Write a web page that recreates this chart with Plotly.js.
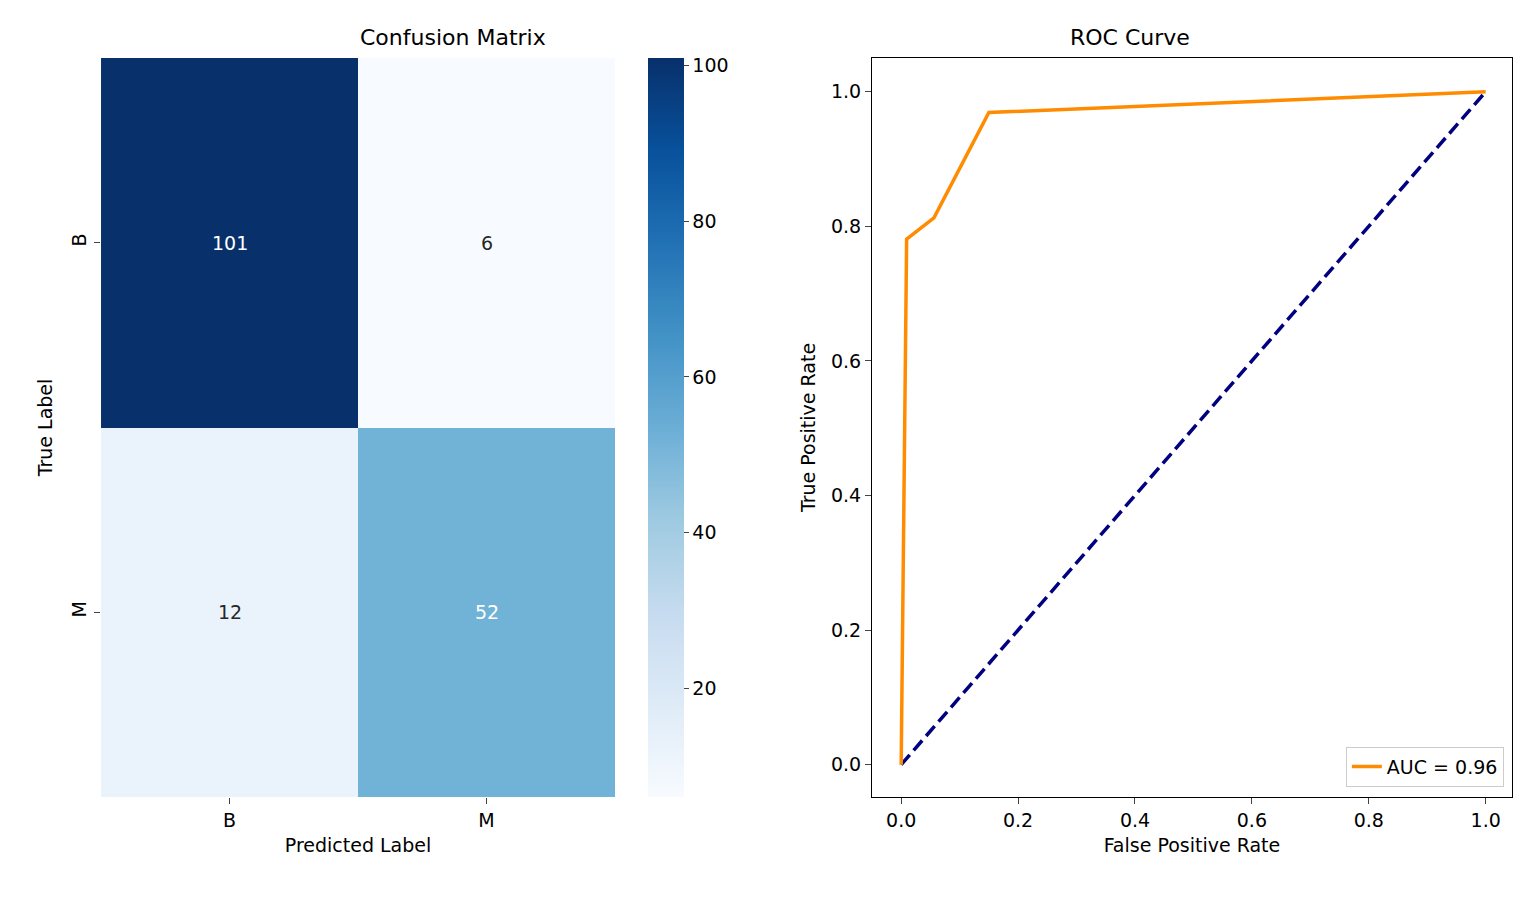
<!DOCTYPE html>
<html>
<head>
<meta charset="utf-8">
<script src="https://cdn.plot.ly/plotly-3.0.1.min.js"></script>
<style>body{margin:0;background:#fff}#c{width:1533px;height:898px}</style>
</head>
<body>
<div id="c"></div>
<script>
// confusion matrix
const labels = ["B", "M"];
const cm = [[101, 6], [12, 52]];
// roc curve
const fpr = [0, 0.0093, 0.056, 0.15, 1];
const tpr = [0, 0.781, 0.8125, 0.969, 1];
const auc = 0.96;

const F = { family: "DejaVu Sans, sans-serif", color: "#000", size: 19 };
const blues = [
    [0, "#f7fbff"], [0.125, "#deebf7"], [0.25, "#c6dbef"], [0.375, "#9ecae1"],
    [0.5, "#6baed6"], [0.625, "#4292c6"], [0.75, "#2171b5"], [0.875, "#08519c"], [1, "#08306b"]
];
const zmin = 6, zmax = 101;

const traces = [
    {
        type: "heatmap", x: labels, y: labels, z: cm, zmin, zmax, colorscale: blues,
        colorbar: { x: 0.4227, xanchor: "left", y: 0.1125, yanchor: "bottom", len: 0.8229, lenmode: "fraction",
            thickness: 36, outlinewidth: 0, xpad: 0, ypad: 0, tickvals: [20, 40, 60, 80, 100], ticks: "outside", ticklen: 5,
            tickfont: F },
        hoverinfo: "skip"
    },
    { x: [0, 1], y: [0, 1], xaxis: "x2", yaxis: "y2", mode: "lines", line: { color: "#000080", width: 3.5, dash: "13px,6px" }, showlegend: false },
    { x: fpr, y: tpr, xaxis: "x2", yaxis: "y2", mode: "lines", name: "AUC = " + auc.toFixed(2), line: { color: "#ff8c00", width: 3.5 } }
];

const ann = [];
cm.forEach((row, i) => row.forEach((v, j) => ann.push({
    x: labels[j], y: labels[i], xref: "x", yref: "y", text: String(v), showarrow: false,
    font: { ...F, color: (v - zmin) / (zmax - zmin) > 0.45 ? "#fff" : "#262626" }
})));

const ax = { showline: true, linecolor: "#000", linewidth: 1, mirror: true, ticks: "outside", ticklen: 6, tickfont: F, showgrid: false, zeroline: false };

Plotly.newPlot("c", traces, {
    width: 1533, height: 898, margin: { l: 0, r: 0, t: 0, b: 0, autoexpand: false }, font: F,
    paper_bgcolor: "#fff", plot_bgcolor: "#fff",
    xaxis: { domain: [0.0659, 0.4012], anchor: "y", ticks: "outside", ticklen: 6, tickfont: F, showline: false,
        title: { text: "Predicted Label", font: F, standoff: 8 } },
    yaxis: { domain: [0.1125, 0.9354], anchor: "x", autorange: "reversed", ticks: "outside", ticklen: 6, tickfont: F, tickangle: -90,
        title: { text: "True Label", font: F, standoff: 10 } },
    xaxis2: { ...ax, domain: [0.5688, 0.9863], anchor: "y2", range: [-0.05, 1.045], dtick: 0.2, tickformat: ".1f",
        title: { text: "False Positive Rate", font: F, standoff: 8 } },
    yaxis2: { ...ax, domain: [0.1125, 0.9354], anchor: "x2", range: [-0.048, 1.05], dtick: 0.2, tickformat: ".1f",
        title: { text: "True Positive Rate", font: F, standoff: 10 } },
    showlegend: true,
    legend: { x: 0.981, xanchor: "right", y: 0.124, yanchor: "bottom", bordercolor: "#ccc", borderwidth: 1, font: F, bgcolor: "rgba(255,255,255,0.8)" },
    annotations: ann.concat([
        { text: "Confusion Matrix", x: 0.2335, xref: "paper", y: 0.9354, yref: "paper", yanchor: "bottom", yshift: 6, showarrow: false, font: { ...F, size: 22 } },
        { text: "ROC Curve", x: 0.7775, xref: "paper", y: 0.9354, yref: "paper", yanchor: "bottom", yshift: 6, showarrow: false, font: { ...F, size: 22 } }
    ])
}, { displayModeBar: false });
</script>
</body>
</html>
